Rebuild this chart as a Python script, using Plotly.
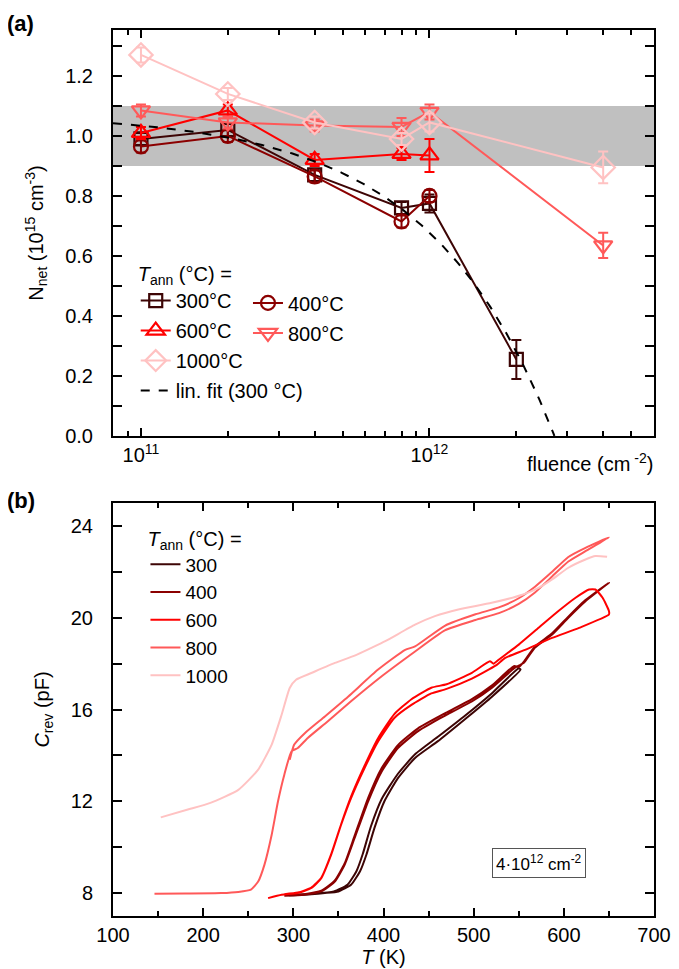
import numpy as np
import plotly.graph_objects as go

# ---------------- panel (a) data ----------------
fluence_300 = [1e11, 2e11, 4e11, 8e11, 1e12, 2e12]
N_300 = [0.99, 1.02, 0.87, 0.76, 0.775, 0.255]
err_300 = [0.02, 0.02, 0.02, 0.02, 0.03, 0.065]

fluence_400 = [1e11, 2e11, 4e11, 8e11, 1e12]
N_400 = [0.965, 1.00, 0.865, 0.715, 0.80]
err_400 = [0.02, 0.02, 0.02, 0.02, 0.02]

fluence_600 = [1e11, 2e11, 4e11, 8e11, 1e12]
N_600 = [1.01, 1.085, 0.92, 0.94, 0.935]
err_600 = [0.02, 0.02, 0.02, 0.02, 0.055]

fluence_800 = [1e11, 2e11, 4e11, 8e11, 1e12, 4e12]
N_800 = [1.085, 1.045, 1.035, 1.03, 1.08, 0.635]
err_800 = [0.02, 0.02, 0.02, 0.03, 0.025, 0.042]

fluence_1000 = [1e11, 2e11, 4e11, 8e11, 1e12, 4e12]
N_1000 = [1.27, 1.14, 1.045, 0.99, 1.045, 0.895]
err_1000 = [0.025, 0.02, 0.02, 0.02, 0.03, 0.053]

# linear fit (300 C): N = N0 * (1 - F / F0)
fit_N0 = 1.074
fit_F0 = 2.71e12

# ---------------- panel (b) data ----------------
T_300 = [295, 320, 335, 350, 364, 374, 381, 390, 401, 416, 435, 460, 491, 520, 552,
         550, 520, 491, 460, 435, 416, 398, 386, 377, 370, 360, 345, 320, 300]
C_300 = [7.9, 7.95, 8.0, 8.07, 8.36, 8.95, 9.67, 10.84, 12.0, 13.01, 13.89, 14.61, 15.6, 16.55, 17.74,
         17.8, 16.7, 15.75, 14.8, 14.05, 13.2, 12.1, 10.9, 9.7, 8.95, 8.36, 8.07, 7.97, 7.92]

T_400 = [290, 312, 331, 346, 357, 368, 383, 398, 416, 438, 460, 469, 498, 520, 545, 552, 556, 568, 587, 605, 624, 650,
         624, 605, 587, 568, 556, 550, 545, 520, 498, 469, 438, 416, 398, 383, 368, 357, 346, 331, 312, 295]
C_400 = [7.88, 7.93, 8.07, 8.5, 9.24, 10.4, 12.0, 13.3, 14.32, 15.05, 15.56, 15.75, 16.35, 16.94, 17.8, 17.95, 18.05, 18.7, 19.27, 20.0, 20.72, 21.53,
         20.77, 20.05, 19.32, 18.75, 18.1, 17.85, 17.9, 17.04, 16.45, 15.85, 15.17, 14.45, 13.45, 12.15, 10.5, 9.3, 8.55, 8.1, 7.95, 7.9]

T_600 = [272, 287, 305, 320, 331, 342, 353, 364, 379, 394, 412, 431, 453, 470, 498, 517, 526, 535, 557, 587, 617, 650,
         650, 643, 635, 628, 613, 594, 572, 550, 528, 522, 518, 498, 470, 453, 431, 412, 394, 379, 364, 353, 342, 331, 320, 305, 290]
C_600 = [7.78, 7.93, 8.0, 8.22, 8.65, 9.67, 10.98, 12.14, 13.45, 14.61, 15.63, 16.2, 16.7, 16.9, 17.35, 17.75, 17.96, 18.25, 18.6, 19.12, 19.56, 20.14,
         20.3, 20.87, 21.23, 21.23, 20.87, 20.29, 19.56, 18.83, 18.18, 18.0, 18.1, 17.6, 17.1, 16.95, 16.45, 15.8, 14.75, 13.55, 12.2, 11.0, 9.7, 8.67, 8.24, 8.02, 7.95]

T_800 = [146, 180, 220, 239, 253, 261, 268, 276, 283, 290, 298, 305, 316, 338, 364, 398, 435, 468, 502, 528, 550, 568, 587, 605, 624, 650,
         624, 605, 587, 568, 550, 528, 502, 468, 435, 424, 394, 361, 335, 313, 301, 296]
C_800 = [7.97, 7.98, 8.0, 8.05, 8.15, 8.5, 9.24, 10.54, 12.0, 13.16, 14.18, 14.32, 14.76, 15.48, 16.36, 17.45, 18.53, 19.45, 19.9, 20.2, 20.6, 21.1, 21.8, 22.45, 22.9, 23.5,
         23.05, 22.65, 22.0, 21.35, 20.85, 20.45, 20.15, 19.65, 18.75, 18.6, 17.74, 16.57, 15.7, 14.98, 14.47, 13.81]

T_1000 = [153, 183, 208, 239, 261, 276, 287, 296, 303, 320, 346, 368, 386, 402, 435, 457, 483, 520, 554, 572, 587, 605, 624, 635, 648]
C_1000 = [11.3, 11.64, 11.93, 12.5, 13.38, 14.47, 15.77, 16.94, 17.3, 17.59, 18.03, 18.35, 18.68, 18.98, 19.7, 20.07, 20.36, 20.65, 21.0, 21.3, 21.67, 22.18, 22.54, 22.69, 22.66]

colors = {"300": "#3d0505", "400": "#8b0000", "600": "#ff0000", "800": "#ff5959", "1000": "#ffc2c2"}

FONT = "Liberation Sans, Arial, sans-serif"
FS = 20

fig = go.Figure()

series_a = [
    ("300", fluence_300, N_300, err_300, "square-open", 13, "legend"),
    ("400", fluence_400, N_400, err_400, "circle-open", 14, "legend2"),
    ("600", fluence_600, N_600, err_600, "triangle-up-open", 16, "legend"),
    ("800", fluence_800, N_800, err_800, "triangle-down-open", 16, "legend2"),
    ("1000", fluence_1000, N_1000, err_1000, "diamond-open", 18, "legend"),
]
for name, f, n, e, sym, size, leg in series_a:
    c = colors[name]
    fig.add_trace(go.Scatter(
        x=f, y=n, mode="lines+markers", name=f"{name}°C", legend=leg, legendgroup="a" + name,
        line=dict(color=c, width=2),
        marker=dict(symbol=sym, size=size, color=c, line=dict(color=c, width=2.2)),
        error_y=dict(type="data", array=e, color=c, thickness=2, width=5),
        xaxis="x", yaxis="y", cliponaxis=False,
    ))

F_fit = np.logspace(np.log10(8e10), np.log10(fit_F0), 300)
N_fit = fit_N0 * (1 - F_fit / fit_F0)
fig.add_trace(go.Scatter(
    x=F_fit, y=N_fit, mode="lines", name="lin. fit (300 °C)", legend="legend", legendgroup="afit",
    line=dict(color="black", width=2, dash="dash"), xaxis="x", yaxis="y",
))

series_b = [("300", T_300, C_300), ("400", T_400, C_400), ("600", T_600, C_600),
            ("800", T_800, C_800), ("1000", T_1000, C_1000)]
for name, t, cc in series_b:
    fig.add_trace(go.Scatter(
        x=t, y=cc, mode="lines", name=name, legend="legend3", legendgroup="b" + name,
        line=dict(color=colors[name], width=2, shape="spline", smoothing=0.5),
        xaxis="x2", yaxis="y2",
    ))

axis_common = dict(showline=True, linecolor="black", linewidth=2, mirror="ticks",
                   ticks="inside", tickcolor="black", tickwidth=1.5,
                   tickfont=dict(family=FONT, size=FS, color="black"),
                   showgrid=False, zeroline=False)

minor_fl = [m * 10 ** p for p in (10, 11, 12) for m in range(2, 10)]
title_font = dict(family=FONT, size=FS, color="black")

fig.update_layout(
    width=679, height=969,
    margin=dict(l=105, r=33, t=22, b=61),
    paper_bgcolor="white", plot_bgcolor="white",
    font=dict(family=FONT, size=FS, color="black"),
    showlegend=True,
    xaxis=dict(type="log", domain=[0, 1], anchor="y",
               range=[np.log10(8e10), np.log10(6e12)],
               tickmode="array", tickvals=[1e11, 1e12],
               ticktext=["10<sup>11</sup>", "10<sup>12</sup>"], ticklen=8,
               minor=dict(tickmode="array", tickvals=minor_fl, ticks="inside", ticklen=5,
                          tickcolor="black", tickwidth=1.5, showgrid=False),
               **axis_common),
    yaxis=dict(domain=[0.5418, 1], anchor="x", range=[0, 1.353],
               tickmode="linear", tick0=0, dtick=0.2, tickformat=".1f", ticklen=9,
               ticklabelstandoff=14,
               minor=dict(dtick=0.1, ticks="inside", ticklen=9, tickcolor="black",
                          tickwidth=1.5, showgrid=False),
               title=dict(text="N<sub>net</sub> (10<sup>15</sup> cm<sup>-3</sup>)",
                          font=title_font, standoff=16),
               **axis_common),
    xaxis2=dict(domain=[0, 1], anchor="y2", range=[100, 700],
                tickmode="linear", tick0=100, dtick=100, ticklen=8,
                minor=dict(dtick=50, ticks="inside", ticklen=5, tickcolor="black",
                           tickwidth=1.5, showgrid=False),
                title=dict(text="<i>T</i> (K)", font=title_font, standoff=2),
                **axis_common),
    yaxis2=dict(domain=[0, 0.4661], anchor="x2", range=[7, 25],
                tickmode="linear", tick0=0, dtick=4, ticklen=9,
                ticklabelstandoff=14,
                minor=dict(dtick=2, ticks="inside", ticklen=9, tickcolor="black",
                           tickwidth=1.5, showgrid=False),
                title=dict(text="<i>C</i><sub>rev</sub> (pF)", font=title_font, standoff=16),
                **axis_common),
    legend=dict(x=0.042, y=0.746, xanchor="left", yanchor="top",
                bgcolor="rgba(0,0,0,0)", font=dict(family=FONT, size=FS),
                title=dict(text="<i>T</i><sub>ann</sub> (°C) =", font=dict(family=FONT, size=FS)),
                itemwidth=30, tracegroupgap=1),
    legend2=dict(x=0.2495, y=0.714, xanchor="left", yanchor="top",
                 bgcolor="rgba(0,0,0,0)", font=dict(family=FONT, size=FS),
                 itemwidth=30, tracegroupgap=1),
    legend3=dict(x=0.06, y=0.4475, xanchor="left", yanchor="top",
                 bgcolor="rgba(0,0,0,0)", font=dict(family=FONT, size=19),
                 title=dict(text="<i>T</i><sub>ann</sub> (°C) =", font=dict(family=FONT, size=FS)),
                 itemwidth=30, tracegroupgap=0),
    shapes=[dict(type="rect", xref="x domain", yref="y", x0=0, x1=1, y0=0.9, y1=1.1,
                 fillcolor="#c0c0c0", line=dict(width=0), layer="below")],
    annotations=[
        dict(text="<b>(a)</b>", xref="paper", yref="paper", x=-0.2, y=1.007,
             xanchor="left", yanchor="middle", showarrow=False,
             font=dict(family=FONT, size=22, color="black")),
        dict(text="<b>(b)</b>", xref="paper", yref="paper", x=-0.2, y=0.4684,
             xanchor="left", yanchor="middle", showarrow=False,
             font=dict(family=FONT, size=22, color="black")),
        dict(text="fluence (cm<sup> -2</sup>)", xref="paper", yref="paper", x=0.882, y=0.5113,
             xanchor="center", yanchor="middle", showarrow=False,
             font=dict(family=FONT, size=FS, color="black")),
        dict(text="4·10<sup>12</sup> cm<sup>-2</sup>", xref="x2 domain", yref="y2 domain",
             x=0.787, y=0.128, xanchor="center", yanchor="middle", showarrow=False,
             bordercolor="#555555", borderwidth=1, borderpad=3, bgcolor="white",
             font=dict(family=FONT, size=17, color="black")),
    ],
)

fig.write_html("out.html")
